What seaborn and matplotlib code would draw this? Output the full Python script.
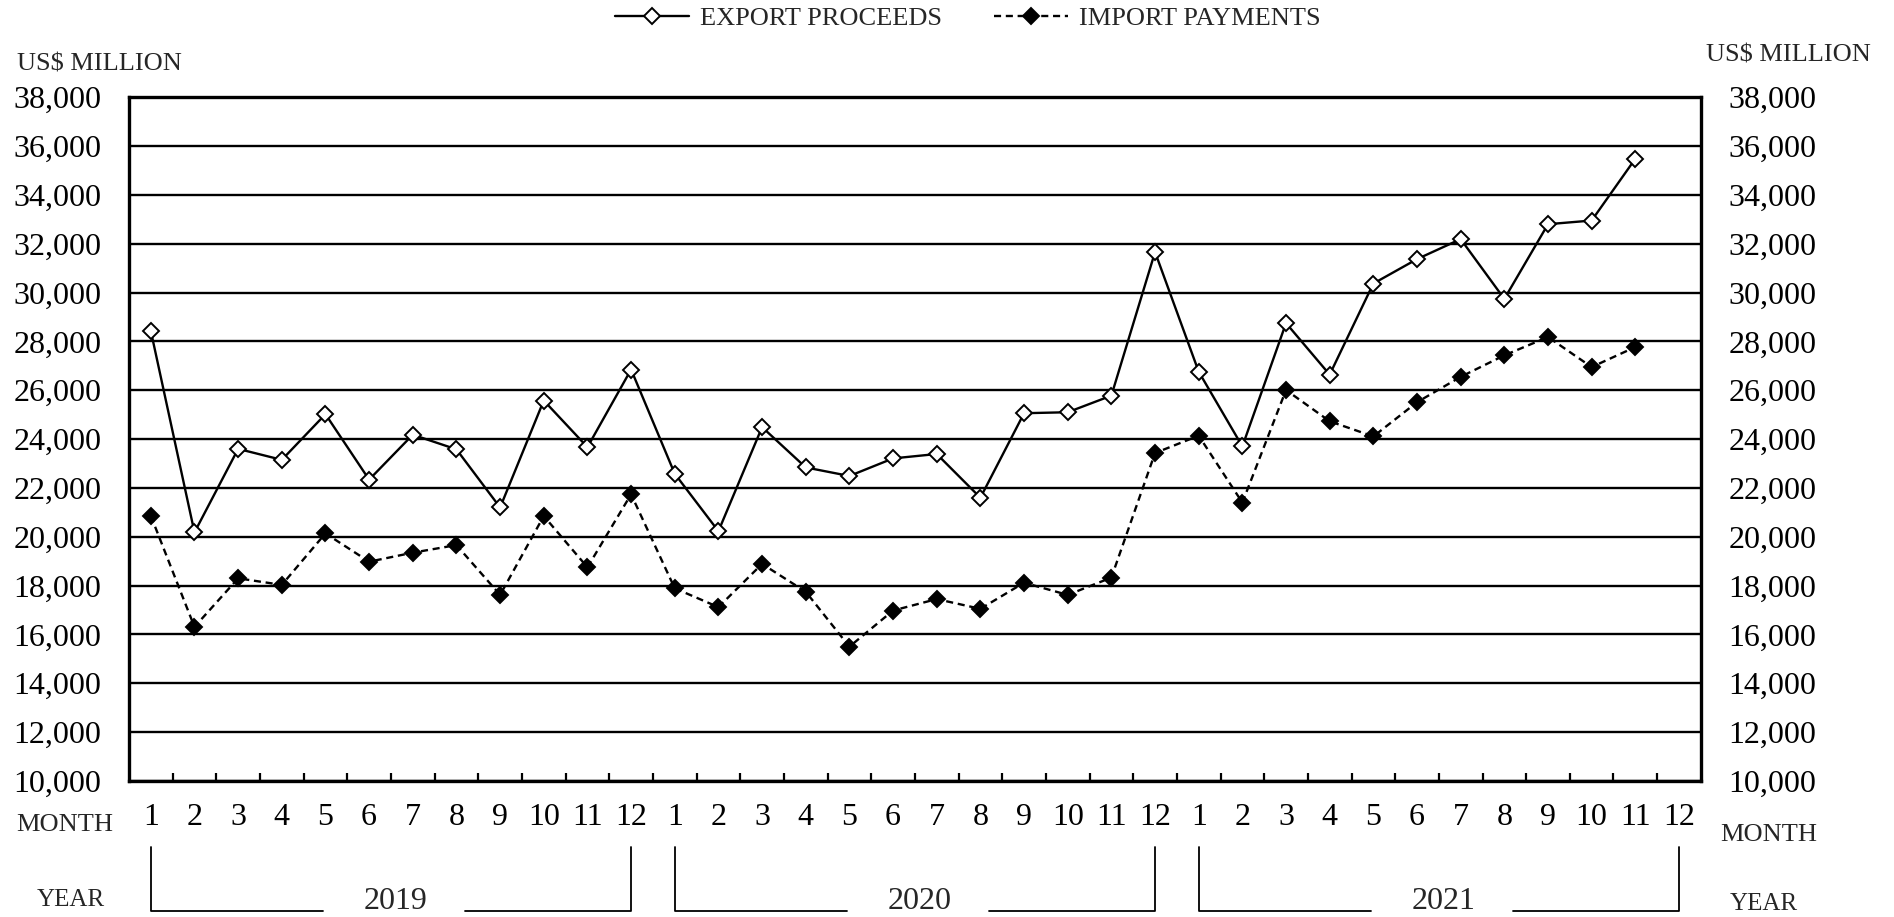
import numpy as np
import pandas as pd
import matplotlib
matplotlib.use("Agg")
import matplotlib.pyplot as plt
import matplotlib.transforms as mtransforms
from matplotlib.lines import Line2D
import seaborn as sns

# ---------------- data ----------------
years = ["2019", "2020", "2021"]
months = list(range(1, 13))
month_labels = [str(m) for _ in years for m in months]

series_names = ["EXPORT PROCEEDS", "IMPORT PAYMENTS"]

export_proceeds = [28430, 20180, 23600, 23150, 25020, 22340, 24180, 23580, 21200, 25580, 23670, 26850,
                   22580, 20230, 24490, 22840, 22490, 23210, 23390, 21600, 25060, 25100, 25780, 31660,
                   26760, 23700, 28750, 26640, 30370, 31370, 32190, 29740, 32800, 32950, 35480]
import_payments = [20860, 16310, 18300, 18030, 20140, 18980, 19350, 19660, 17620, 20850, 18750, 21740,
                   17890, 17120, 18890, 17750, 15500, 16980, 17450, 17050, 18120, 17620, 18330, 23430,
                   24140, 21400, 26010, 24730, 24110, 25510, 26550, 27430, 28180, 26950, 27770]

y_ticks = list(range(10000, 38001, 2000))

df_exp = pd.DataFrame({"idx": range(len(export_proceeds)), "value": export_proceeds})
df_imp = pd.DataFrame({"idx": range(len(import_payments)), "value": import_payments})

# ---------------- style ----------------
sns.set_theme(style="white")
plt.rcParams["font.family"] = ["Liberation Serif", "DejaVu Serif"]

fig = plt.figure(figsize=(18.94, 9.17), dpi=100)
ax_left, ax_right, ax_bottom, ax_top = 0.0681, 0.898, 0.1483, 0.894
ax = fig.add_axes([ax_left, ax_bottom, ax_right - ax_left, ax_top - ax_bottom])

sns.lineplot(data=df_exp, x="idx", y="value", ax=ax, color="black", linewidth=1.7,
             marker="D", markersize=8, markerfacecolor="white", markeredgecolor="black",
             markeredgewidth=1.4, label=series_names[0], errorbar=None, zorder=3)
sns.lineplot(data=df_imp, x="idx", y="value", ax=ax, color="black", linewidth=1.7,
             linestyle=(0, (3, 2)), marker="D", markersize=8, markerfacecolor="black",
             markeredgecolor="black", markeredgewidth=1.4, label=series_names[1],
             errorbar=None, zorder=3)

handles, labels = ax.get_legend_handles_labels()
if ax.get_legend() is not None:
    ax.get_legend().remove()
fig.legend(handles, labels, loc="center", bbox_to_anchor=(0.511, 0.980), ncol=2,
           frameon=False, fontsize=19, handlelength=2.8, handletextpad=0.4,
           columnspacing=2.0)

ax.set_xlim(-0.5, 35.5)
ax.set_ylim(10000, 38000)
ax.set_yticks(y_ticks)
ax.set_yticklabels([f"{v:,}" for v in y_ticks])
ax.set_xticks(range(36))
ax.set_xticklabels(month_labels)
ax.set_xticks(np.arange(0.5, 35, 1), minor=True)
ax.tick_params(axis="x", which="major", length=0, pad=16, labelsize=23, colors="black")
ax.tick_params(axis="x", which="minor", direction="in", length=6, width=1.6,
               color="black", bottom=True, top=False)
ax.tick_params(axis="y", which="major", length=0, left=False, right=False,
               labelleft=True, labelright=True, pad=20, labelsize=23, colors="black")
ax.yaxis.grid(True, color="black", linewidth=1.7)
ax.xaxis.grid(False)
ax.set_axisbelow(True)
for s in ax.spines.values():
    s.set_visible(True)
    s.set_color("black")
    s.set_linewidth(2.4)
ax.set_xlabel("")
ax.set_ylabel("")

# ---------------- captions ----------------
fig.text(0.009, 0.930, "US$ MILLION", fontsize=19, ha="left", va="center")
fig.text(0.901, 0.940, "US$ MILLION", fontsize=19, ha="left", va="center")
fig.text(0.034, 0.100, "MONTH", fontsize=19, ha="center", va="center")
fig.text(0.934, 0.089, "MONTH", fontsize=19, ha="center", va="center")
fig.text(0.0375, 0.0185, "YEAR", fontsize=18, ha="center", va="center")
fig.text(0.9315, 0.014, "YEAR", fontsize=18, ha="center", va="center")

# year brackets
trans = mtransforms.blended_transform_factory(ax.transData, fig.transFigure)
y_top, y_bot = 0.0767, 0.0069
for k, yr in enumerate(years):
    s = 12 * k
    fig.add_artist(Line2D([s, s, s + 3.95], [y_top, y_bot, y_bot], transform=trans,
                          color="black", linewidth=1.3))
    fig.add_artist(Line2D([s + 7.2, s + 11, s + 11], [y_bot, y_bot, y_top], transform=trans,
                          color="black", linewidth=1.3))
    fig.text(s + 5.6, y_bot + 0.002, yr, transform=trans, fontsize=23,
             ha="center", va="baseline")

fig.savefig("out.png", dpi=100, facecolor="white")
